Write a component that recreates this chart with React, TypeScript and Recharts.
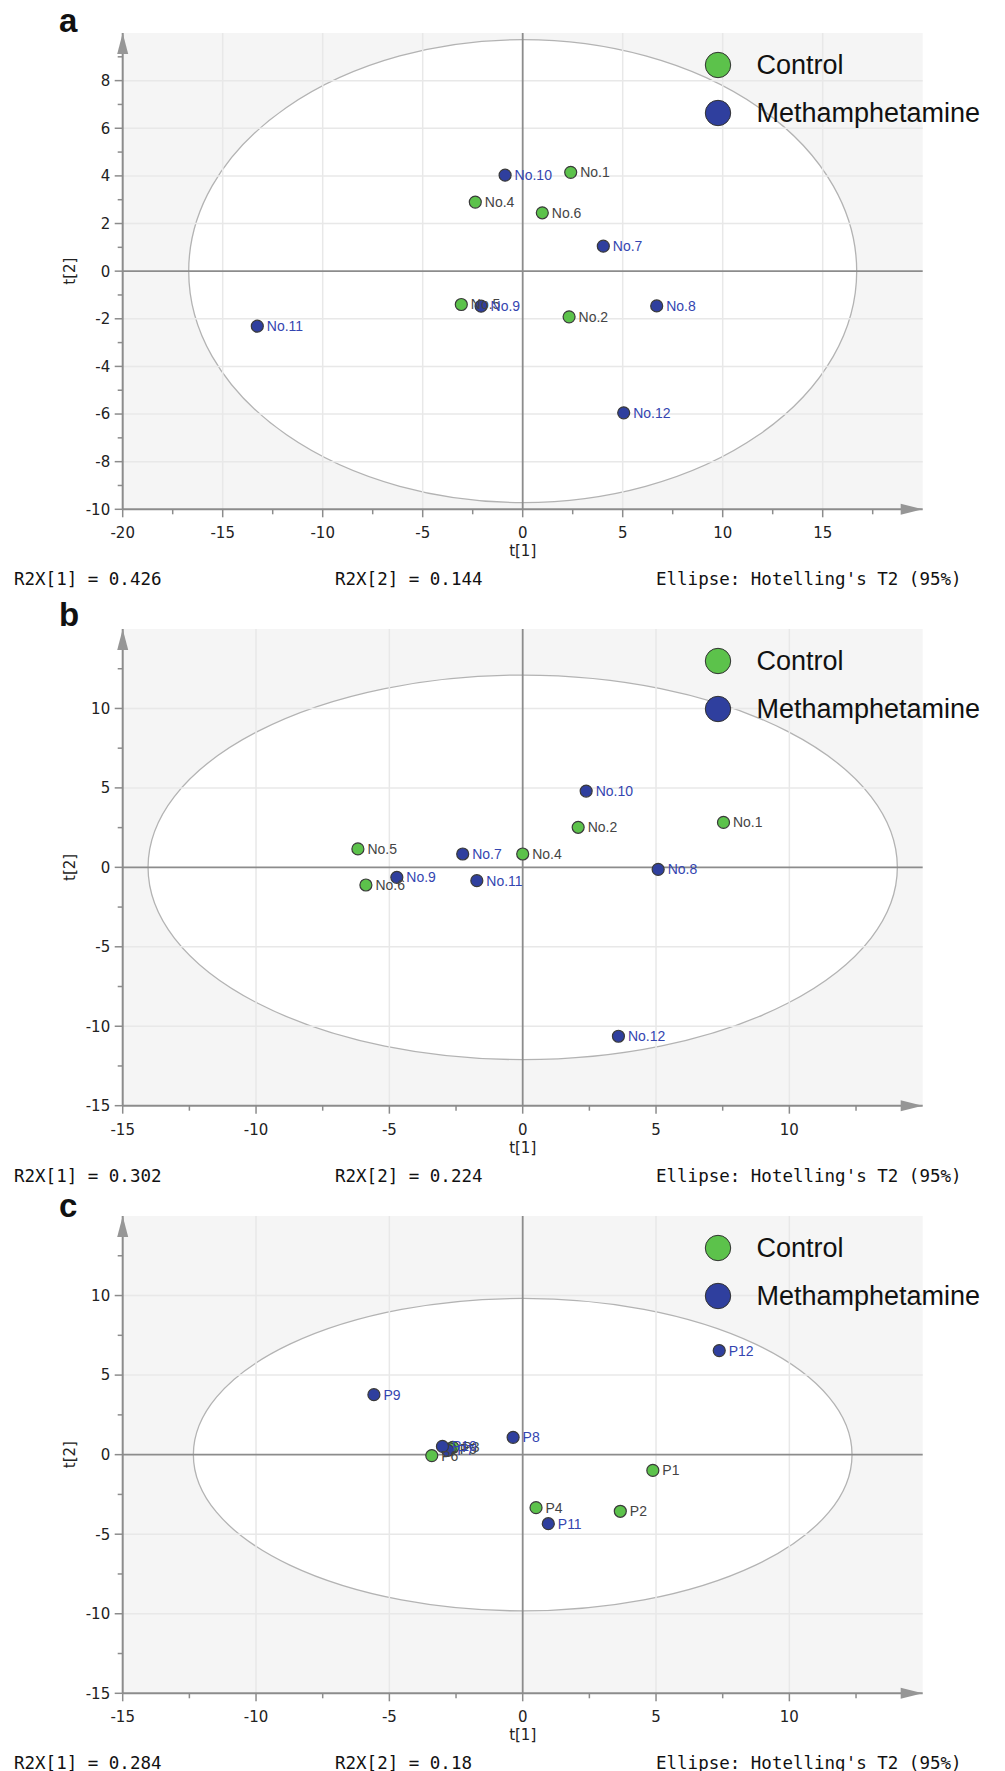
import React from "react";
import {
  ScatterChart,
  Scatter,
  XAxis,
  YAxis,
  ZAxis,
  ReferenceArea,
  ReferenceLine,
  ReferenceDot,
  LabelList,
  Legend,
} from "recharts";

type Sample = { name: string; t1: number; t2: number };

// score plot a
const controlA: Sample[] = [
  { name: "No.1", t1: 2.4, t2: 4.15 },
  { name: "No.2", t1: 2.32, t2: -1.92 },
  { name: "No.4", t1: -2.37, t2: 2.9 },
  { name: "No.5", t1: -3.07, t2: -1.4 },
  { name: "No.6", t1: 0.98, t2: 2.45 },
];
const methA: Sample[] = [
  { name: "No.7", t1: 4.03, t2: 1.05 },
  { name: "No.8", t1: 6.7, t2: -1.46 },
  { name: "No.9", t1: -2.08, t2: -1.47 },
  { name: "No.10", t1: -0.88, t2: 4.03 },
  { name: "No.11", t1: -13.27, t2: -2.31 },
  { name: "No.12", t1: 5.05, t2: -5.95 },
];

// score plot b
const controlB: Sample[] = [
  { name: "No.1", t1: 7.53, t2: 2.83 },
  { name: "No.2", t1: 2.08, t2: 2.52 },
  { name: "No.4", t1: 0.0, t2: 0.84 },
  { name: "No.5", t1: -6.18, t2: 1.16 },
  { name: "No.6", t1: -5.88, t2: -1.11 },
];
const methB: Sample[] = [
  { name: "No.7", t1: -2.25, t2: 0.84 },
  { name: "No.8", t1: 5.08, t2: -0.13 },
  { name: "No.9", t1: -4.72, t2: -0.63 },
  { name: "No.10", t1: 2.38, t2: 4.8 },
  { name: "No.11", t1: -1.72, t2: -0.84 },
  { name: "No.12", t1: 3.59, t2: -10.63 },
];

// score plot c
const controlC: Sample[] = [
  { name: "P1", t1: 4.88, t2: -0.99 },
  { name: "P2", t1: 3.66, t2: -3.56 },
  { name: "P3", t1: -2.62, t2: 0.46 },
  { name: "P4", t1: 0.5, t2: -3.33 },
  { name: "P5", t1: -2.72, t2: 0.36 },
  { name: "P6", t1: -3.41, t2: -0.06 },
];
const methC: Sample[] = [
  { name: "P7", t1: -2.81, t2: 0.27 },
  { name: "P8", t1: -0.36, t2: 1.09 },
  { name: "P9", t1: -5.58, t2: 3.77 },
  { name: "P10", t1: -3.01, t2: 0.52 },
  { name: "P11", t1: 0.96, t2: -4.34 },
  { name: "P12", t1: 7.37, t2: 6.54 },
];

const groupNames = ["Control", "Methamphetamine"];

// Hotelling's T2 ellipse semi-axes (t[1], t[2])
const ellipseA: [number, number] = [16.7, 9.72];
const ellipseB: [number, number] = [14.05, 12.1];
const ellipseC: [number, number] = [12.35, 9.82];

const r2xA = ["0.426", "0.144"];
const r2xB = ["0.302", "0.224"];
const r2xC = ["0.284", "0.18"];

const xMajorA = [-20, -15, -10, -5, 0, 5, 10, 15];
const xMinorA = [-17.5, -12.5, -7.5, -2.5, 2.5, 7.5, 12.5, 17.5];
const yMajorA = [-10, -8, -6, -4, -2, 0, 2, 4, 6, 8];
const yMinorA = [-9, -7, -5, -3, -1, 1, 3, 5, 7, 9];
const xMajorBC = [-15, -10, -5, 0, 5, 10];
const xMinorBC = [-12.5, -7.5, -2.5, 2.5, 7.5, 12.5];
const yMajorBC = [-15, -10, -5, 0, 5, 10];
const yMinorBC = [-12.5, -7.5, -2.5, 2.5, 7.5, 12.5];

const GREEN = "#5cc24b";
const BLUE = "#2f3f9e";
const AXIS = "#8c8c8c";
const GRID = "#e8e8e8";
const PLOT_LEFT = 122.7;
const PLOT_W = 800;
const PLOT_TOP = 33;
const AXIS_H = 95;

const sans = "'Liberation Sans', Arial, sans-serif";
const tickFont = "'DejaVu Sans', Verdana, sans-serif";
const mono = "'DejaVu Sans Mono', monospace";

const XTick = (props: any) => {
  const { x, y, payload, major } = props;
  const isMajor = major.includes(payload.value);
  return (
    <g>
      <line x1={x} y1={y} x2={x} y2={y + (isMajor ? 8 : 5)} stroke={AXIS} strokeWidth={1.5} />
      {isMajor && (
        <text x={x} y={y + 29} textAnchor="middle" fontSize={15} fontFamily={tickFont} fill="#222">
          {payload.value}
        </text>
      )}
    </g>
  );
};

const YTick = (props: any) => {
  const { x, y, payload, major } = props;
  const isMajor = major.includes(payload.value);
  return (
    <g>
      <line x1={x} y1={y} x2={x - (isMajor ? 8 : 5)} y2={y} stroke={AXIS} strokeWidth={1.5} />
      {isMajor && (
        <text x={x - 12.5} y={y} dy="0.36em" textAnchor="end" fontSize={15} fontFamily={tickFont} fill="#222">
          {payload.value}
        </text>
      )}
    </g>
  );
};

const EllipseShape = (p: any) => (
  <ellipse
    cx={p.x + p.width / 2}
    cy={p.y + p.height / 2}
    rx={p.width / 2}
    ry={p.height / 2}
    fill="#ffffff"
    stroke="#b3b3b3"
    strokeWidth={1.3}
  />
);

const RightArrow = (p: any) => (
  <path d={`M${p.cx},${p.cy} l-22,-5.5 v11 z`} fill="#969696" />
);
const UpArrow = (p: any) => (
  <path d={`M${p.cx},${p.cy} l-5.5,21 h11 z`} fill="#969696" />
);

const Dot = (p: any) => (
  <circle cx={p.cx} cy={p.cy} r={6} fill={p.fill} stroke="#3a3a3a" strokeWidth={1.2} />
);

const LegendBox = ({ payload }: any) => (
  <div>
    {(payload || []).map((e: any) => (
      <div key={e.value} style={{ display: "flex", alignItems: "center", height: 48 }}>
        <svg width={28} height={28}>
          <circle cx={14} cy={14} r={12.7} fill={e.color} stroke="#333" strokeWidth={1} />
        </svg>
        <span style={{ marginLeft: 25, fontSize: 27, fontFamily: sans, color: "#111", lineHeight: "28px" }}>
          {e.value}
        </span>
      </div>
    ))}
  </div>
);

type PanelProps = {
  letter: string;
  top: number;
  letterY: number;
  plotH: number;
  xDomain: [number, number];
  yDomain: [number, number];
  xMajor: number[];
  xMinor: number[];
  yMajor: number[];
  yMinor: number[];
  ellipse: [number, number];
  control: Sample[];
  meth: Sample[];
  r2x: string[];
};

function Panel(props: PanelProps) {
  const { letter, top, letterY, plotH, xDomain, yDomain, xMajor, xMinor, yMajor, yMinor, ellipse, control, meth, r2x } =
    props;
  const height = PLOT_TOP + plotH + AXIS_H;
  const [x0, x1] = xDomain;
  const [y0, y1] = yDomain;
  const xGrid = xMajor.filter((v) => v !== x0 && v !== 0);
  const yGrid = yMajor.filter((v) => v !== y0 && v !== 0);
  const axisY = PLOT_TOP + plotH;

  return (
    <div style={{ position: "absolute", left: 0, top, width: 1005, height }}>
      <ScatterChart
        width={1005}
        height={height}
        margin={{ top: PLOT_TOP, right: 1005 - PLOT_LEFT - PLOT_W, bottom: 0, left: 0 }}
      >
        <XAxis
          type="number"
          dataKey="t1"
          domain={xDomain}
          ticks={[...xMajor, ...xMinor]}
          interval={0}
          allowDataOverflow
          height={AXIS_H}
          tickSize={0}
          tickMargin={0}
          tickLine={false}
          axisLine={{ stroke: AXIS, strokeWidth: 2 }}
          tick={(p: any) => <XTick {...p} major={xMajor} />}
        />
        <YAxis
          type="number"
          dataKey="t2"
          domain={yDomain}
          ticks={[...yMajor, ...yMinor]}
          interval={0}
          allowDataOverflow
          width={PLOT_LEFT}
          tickSize={0}
          tickMargin={0}
          tickLine={false}
          axisLine={{ stroke: AXIS, strokeWidth: 2 }}
          tick={(p: any) => <YTick {...p} major={yMajor} />}
        />
        <ZAxis range={[113, 113]} />
        <ReferenceArea x1={x0} x2={x1} y1={y0} y2={y1} fill="#f5f5f5" fillOpacity={1} stroke="none" />
        <ReferenceArea x1={-ellipse[0]} x2={ellipse[0]} y1={-ellipse[1]} y2={ellipse[1]} shape={EllipseShape} />
        {xGrid.map((v) => (
          <ReferenceLine key={`gx${v}`} x={v} stroke={GRID} strokeWidth={1.5} />
        ))}
        {yGrid.map((v) => (
          <ReferenceLine key={`gy${v}`} y={v} stroke={GRID} strokeWidth={1.5} />
        ))}
        <ReferenceLine x={0} stroke={AXIS} strokeWidth={1.8} />
        <ReferenceLine y={0} stroke={AXIS} strokeWidth={1.8} />
        <ReferenceDot x={x1} y={y0} shape={RightArrow} />
        <ReferenceDot x={x0} y={y1} shape={UpArrow} />
        <Scatter name={groupNames[0]} data={control} fill={GREEN} shape={Dot} isAnimationActive={false}>
          <LabelList dataKey="name" position="right" offset={5} fill="#444" fontSize={14} fontFamily={sans} />
        </Scatter>
        <Scatter name={groupNames[1]} data={meth} fill={BLUE} shape={Dot} isAnimationActive={false}>
          <LabelList dataKey="name" position="right" offset={5} fill="#3445b0" fontSize={14} fontFamily={sans} />
        </Scatter>
        <Legend
          layout="vertical"
          align="center"
          verticalAlign="middle"
          wrapperStyle={{ left: 703.5, top: PLOT_TOP + 8, width: 300 }}
          content={LegendBox}
        />
      </ScatterChart>
      <svg
        width={1005}
        height={height}
        style={{ position: "absolute", left: 0, top: 0, pointerEvents: "none" }}
      >
        <text x={59} y={letterY} fontSize={33} fontWeight="bold" fontFamily={sans} fill="#111">
          {letter}
        </text>
        <text
          x={PLOT_LEFT + PLOT_W / 2}
          y={axisY + 47}
          textAnchor="middle"
          fontSize={15}
          fontFamily={tickFont}
          fill="#222"
        >
          t[1]
        </text>
        <text
          x={75}
          y={PLOT_TOP + plotH / 2}
          transform={`rotate(-90 75 ${PLOT_TOP + plotH / 2})`}
          textAnchor="middle"
          fontSize={15}
          fontFamily={tickFont}
          fill="#222"
        >
          t[2]
        </text>
        <text x={14} y={axisY + 76} fontSize={17.5} fontFamily={mono} fill="#111">
          {`R2X[1] = ${r2x[0]}`}
        </text>
        <text x={335} y={axisY + 76} fontSize={17.5} fontFamily={mono} fill="#111">
          {`R2X[2] = ${r2x[1]}`}
        </text>
        <text x={656} y={axisY + 76} fontSize={17.5} fontFamily={mono} fill="#111">
          Ellipse: Hotelling's T2 (95%)
        </text>
      </svg>
    </div>
  );
}

export default function App() {
  return (
    <div style={{ position: "absolute", left: 0, top: 0, width: 1005, height: 1771, background: "#fff" }}>
      <Panel
        letter="a"
        top={0}
        letterY={32}
        plotH={476.3}
        xDomain={[-20, 20]}
        yDomain={[-10, 10]}
        xMajor={xMajorA}
        xMinor={xMinorA}
        yMajor={yMajorA}
        yMinor={yMinorA}
        ellipse={ellipseA}
        control={controlA}
        meth={methA}
        r2x={r2xA}
      />
      <Panel
        letter="b"
        top={596}
        letterY={30}
        plotH={476.7}
        xDomain={[-15, 15]}
        yDomain={[-15, 15]}
        xMajor={xMajorBC}
        xMinor={xMinorBC}
        yMajor={yMajorBC}
        yMinor={yMinorBC}
        ellipse={ellipseB}
        control={controlB}
        meth={methB}
        r2x={r2xB}
      />
      <Panel
        letter="c"
        top={1183}
        letterY={34}
        plotH={477.3}
        xDomain={[-15, 15]}
        yDomain={[-15, 15]}
        xMajor={xMajorBC}
        xMinor={xMinorBC}
        yMajor={yMajorBC}
        yMinor={yMinorBC}
        ellipse={ellipseC}
        control={controlC}
        meth={methC}
        r2x={r2xC}
      />
    </div>
  );
}
